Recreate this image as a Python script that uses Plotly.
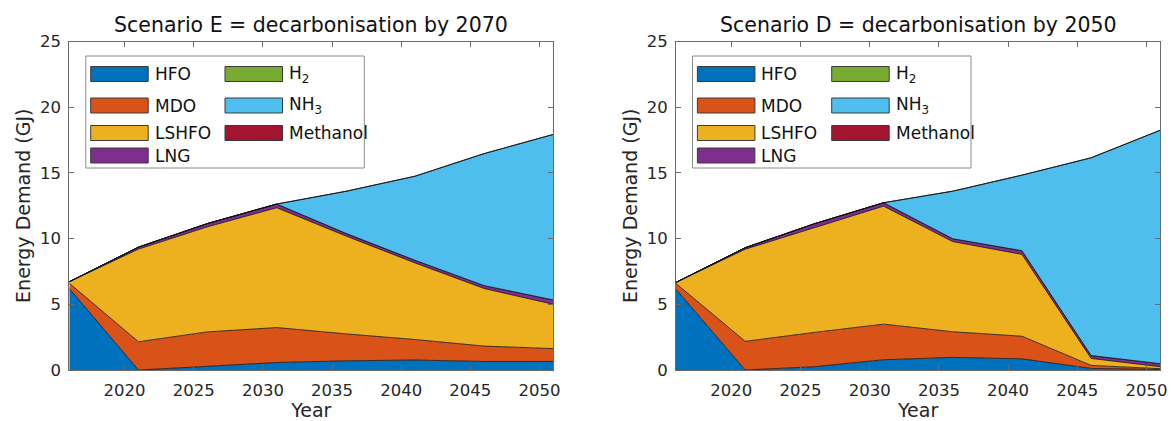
import plotly.graph_objects as go

years = [2016, 2021, 2026, 2031, 2036, 2041, 2046, 2051]

fuels = ["HFO", "MDO", "LSHFO", "LNG", "H2", "NH3", "Methanol"]
fuel_labels = ["HFO", "MDO", "LSHFO", "LNG", "H<sub>2</sub>", "NH<sub>3</sub>", "Methanol"]
fuel_colors = ["#0072BD", "#D95319", "#EDB120", "#7E2F8E", "#77AC30", "#4DBEEE", "#A2142F"]

# Scenario E = decarbonisation by 2070 (GJ)
e_hfo = [6.2, 0.0, 0.28, 0.57, 0.70, 0.76, 0.65, 0.65]
e_mdo = [0.40, 2.15, 2.62, 2.66, 2.05, 1.56, 1.17, 0.98]
e_lshfo = [0.12, 7.05, 8.00, 9.12, 7.45, 5.83, 4.38, 3.37]
e_lng = [0.0, 0.15, 0.25, 0.28, 0.20, 0.20, 0.22, 0.33]
e_h2 = [0, 0, 0, 0, 0, 0, 0, 0]
e_nh3 = [0.0, 0.0, 0.0, 0.0, 3.20, 6.40, 10.05, 12.60]
e_meoh = [0, 0, 0, 0, 0, 0, 0, 0]

# Scenario D = decarbonisation by 2050 (GJ)
d_hfo = [6.15, 0.0, 0.25, 0.78, 0.96, 0.85, 0.12, 0.04]
d_mdo = [0.43, 2.18, 2.61, 2.71, 1.95, 1.72, 0.23, 0.06]
d_lshfo = [0.09, 7.01, 7.97, 8.98, 6.86, 6.23, 0.53, 0.15]
d_lng = [0.0, 0.12, 0.30, 0.26, 0.22, 0.28, 0.22, 0.23]
d_h2 = [0, 0, 0, 0, 0, 0, 0, 0]
d_nh3 = [0.0, 0.0, 0.0, 0.0, 3.62, 5.75, 15.05, 17.77]
d_meoh = [0, 0, 0, 0, 0, 0, 0, 0]

titles = ["Scenario E = decarbonisation by 2070", "Scenario D = decarbonisation by 2050"]
x_ticks = [2020, 2025, 2030, 2035, 2040, 2045, 2050]
y_ticks = [0, 5, 10, 15, 20, 25]

scenarios = [
    [e_hfo, e_mdo, e_lshfo, e_lng, e_h2, e_nh3, e_meoh],
    [d_hfo, d_mdo, d_lshfo, d_lng, d_h2, d_nh3, d_meoh],
]

W, H = 1171, 421
FONT = "DejaVu Sans"
TXT = "#262626"

fig = go.Figure()
for si, series in enumerate(scenarios):
    xa = "x" if si == 0 else "x2"
    ya = "y" if si == 0 else "y2"
    for fi, vals in enumerate(series):
        fig.add_trace(go.Scatter(
            x=years, y=vals, mode="lines", stackgroup="s%d" % si,
            name=fuels[fi], showlegend=False,
            line=dict(color="#111111", width=0.8),
            fillcolor=fuel_colors[fi], xaxis=xa, yaxis=ya,
        ))

ax_left_px = [69.3, 676.0]
ax_right_px = [553.3, 1160.3]
doms = [[ax_left_px[i] / W, ax_right_px[i] / W] for i in range(2)]
dom_y = [1 - 370 / H, 1 - 41.5 / H]

axis_common = dict(
    showline=True, linecolor="#6b6b6b", linewidth=1, mirror="ticks",
    ticks="inside", ticklen=5, tickcolor="#6b6b6b", showgrid=False,
    zeroline=False, tickfont=dict(family=FONT, size=16.5, color=TXT),
    automargin=False,
)

for i, dom in enumerate(doms):
    xk = "xaxis" if i == 0 else "xaxis2"
    yk = "yaxis" if i == 0 else "yaxis2"
    fig.update_layout(**{
        xk: dict(axis_common, domain=dom, range=[2016, 2051], tickvals=x_ticks,
                 anchor="y" if i == 0 else "y2", ticklabelstandoff=5,
                 title=dict(text="Year", font=dict(family=FONT, size=19, color=TXT), standoff=3)),
        yk: dict(axis_common, domain=dom_y, range=[0, 25], tickvals=y_ticks,
                 anchor="x" if i == 0 else "x2", ticklabelstandoff=4,
                 title=dict(text="Energy Demand (GJ)", font=dict(family=FONT, size=19, color=TXT), standoff=4)),
    })

# Legend box (drawn with shapes + text) – two columns like the original
shapes = []
annotations = []
col_order = [[0, 1, 2, 3], [4, 5, 6]]
row_y = [74, 105.5, 133, 155.5]
for i in range(2):
    x0 = ax_left_px[i]
    shapes.append(dict(type="rect", xref="paper", yref="paper", layer="above",
                       x0=(x0 + 16.5) / W, x1=(x0 + 295) / W,
                       y0=1 - 168 / H, y1=1 - 56 / H,
                       fillcolor="white", line=dict(color="#8c8c8c", width=1)))
    for c, idxs in enumerate(col_order):
        sx0 = x0 + (21.4 if c == 0 else 155.7)
        sx1 = sx0 + 57.5
        for r, fi in enumerate(idxs):
            cy = row_y[r]
            shapes.append(dict(type="rect", xref="paper", yref="paper", layer="above",
                               x0=sx0 / W, x1=sx1 / W,
                               y0=1 - (cy + 7.5) / H, y1=1 - (cy - 7.5) / H,
                               fillcolor=fuel_colors[fi], line=dict(color="#3a3a3a", width=1)))
            annotations.append(dict(text=fuel_labels[fi], xref="paper", yref="paper",
                                    x=(sx1 + 4.5) / W, y=1 - cy / H, xanchor="left", yanchor="middle",
                                    showarrow=False, font=dict(family=FONT, size=17, color="#111111")))

for i, dom in enumerate(doms):
    annotations.append(dict(
        text=titles[i], xref="paper", yref="paper", x=(dom[0] + dom[1]) / 2,
        y=1 - 25 / H, xanchor="center", yanchor="middle", showarrow=False,
        font=dict(family=FONT, size=20.5, color="#111111"),
    ))

fig.update_layout(
    shapes=shapes, annotations=annotations, showlegend=False,
    width=W, height=H, margin=dict(l=0, r=0, t=0, b=0),
    paper_bgcolor="white", plot_bgcolor="white",
    font=dict(family=FONT, color=TXT),
)

fig.write_html("out.html", config={"displayModeBar": False},
               post_script="document.body.style.margin='0px';document.body.style.overflow='hidden';")
